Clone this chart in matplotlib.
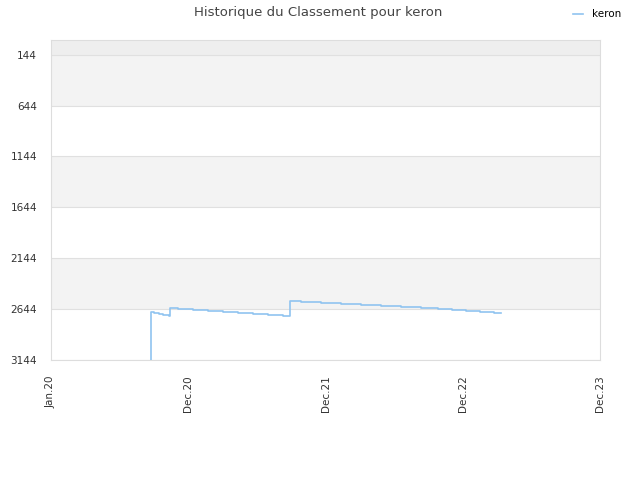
import matplotlib
matplotlib.use("Agg")
import matplotlib.pyplot as plt
import pandas as pd

dates = ["2020-09-15", "2020-09-22", "2020-10-01", "2020-10-14", "2020-10-25",
         "2020-11-10", "2020-11-12", "2020-12-05", "2021-01-13", "2021-02-22",
         "2021-04-03", "2021-05-13", "2021-06-22", "2021-08-01", "2021-09-10",
         "2021-09-28", "2021-10-27", "2021-12-19", "2022-02-10", "2022-04-04",
         "2022-05-28", "2022-07-20", "2022-09-11", "2022-10-25", "2022-12-02",
         "2023-01-09", "2023-02-15", "2023-03-24", "2023-04-13"]
ranks = [3400, 2671, 2683, 2693, 2703,
         2713, 2631, 2641, 2651, 2661,
         2671, 2681, 2690, 2700, 2710,
         2562, 2572, 2582, 2592, 2602,
         2611, 2621, 2631, 2641, 2651,
         2661, 2671, 2680, 2680]

y_ticks = [144, 644, 1144, 1644, 2144, 2644, 3144]
x_ticks = ["2020-01-01", "2020-12-31", "2021-12-31", "2022-12-31", "2023-12-31"]
x_labels = ["Jan.20", "Dec.20", "Dec.21", "Dec.22", "Dec.23"]

dates = pd.to_datetime(dates)
x_ticks = pd.to_datetime(x_ticks)

fig = plt.figure(figsize=(6.4, 4.8), dpi=100)
ax = fig.add_axes([51 / 640, 0.25, 549 / 640, 320 / 480])

y_top = 0
ax.axhspan(y_top, y_ticks[0], color="#eeeeee", zorder=0, lw=0)
for i in range(len(y_ticks) - 1):
    if i % 2 == 0:
        ax.axhspan(y_ticks[i], y_ticks[i + 1], color="#f3f3f3", zorder=0, lw=0)
for t in y_ticks:
    ax.axhline(t, color="#e0e0e0", lw=0.8, zorder=1)

ax.step(dates, ranks, where="post", color="#90c4f0", lw=1.2, label="keron", zorder=3)

ax.set_ylim(y_ticks[-1], y_top)
ax.set_xlim(x_ticks[0], x_ticks[-1])
ax.set_yticks(y_ticks)
ax.set_yticklabels([str(t) for t in y_ticks])
ax.set_xticks(x_ticks)
ax.set_xticklabels(x_labels, rotation=90)
ax.tick_params(axis="both", labelsize=7.5, colors="#333333", length=0)
ax.tick_params(axis="x", pad=11)
ax.tick_params(axis="y", pad=10)
for s in ax.spines.values():
    s.set_color("#dddddd")

fig.suptitle("Historique du Classement pour keron", x=0.497, y=0.988,
             fontsize=9.5, color="#444444")
fig.legend(loc="upper right", bbox_to_anchor=(0.985, 1.0), frameon=False,
           fontsize=7.5, handlelength=1.0, handletextpad=0.8)

fig.savefig("out.png", dpi=100)
